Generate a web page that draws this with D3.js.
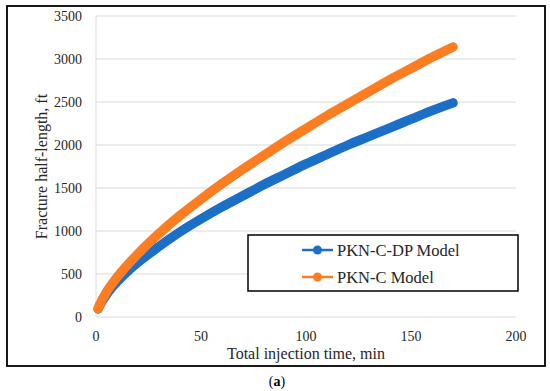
<!DOCTYPE html>
<html>
<head>
<meta charset="utf-8">
<script src="https://cdn.jsdelivr.net/npm/d3@7"></script>
<style>
  body { margin: 0; background: #fff; }
</style>
</head>
<body>
<div id="chart"></div>
<script>
// values
var times = [1, 2, 5, 10, 15, 20, 30, 40, 50, 60, 70, 80, 90, 100, 110, 120, 130, 140, 150, 160, 170];
var pknCdp = [94, 146, 262, 410, 530, 635, 820, 990, 1140, 1280, 1410, 1540, 1660, 1780, 1890, 2000, 2100, 2200, 2300, 2400, 2490];
var pknC = [97, 155, 290, 460, 605, 735, 970, 1180, 1370, 1550, 1720, 1880, 2040, 2190, 2340, 2480, 2620, 2760, 2890, 3020, 3140];
var xTicks = [0, 50, 100, 150, 200];
var yTicks = [0, 500, 1000, 1500, 2000, 2500, 3000, 3500];
var seriesNames = ["PKN-C-DP Model", "PKN-C Model"];
var colors = ["#1c6fc6", "#fd7d23"];

var serif = "'Liberation Serif', 'Times New Roman', serif";

var svg = d3.select("#chart")
  .append("svg")
    .attr("width", 550)
    .attr("height", 391)
    .attr("font-family", serif);

// outer frame
svg.append("rect")
    .attr("x", 7).attr("y", 6)
    .attr("width", 538).attr("height", 360)
    .attr("fill", "none")
    .attr("stroke", "#000")
    .attr("stroke-width", 1.8);

var x = d3.scaleLinear().domain([0, 200]).range([96, 516]);
var y = d3.scaleLinear().domain([0, 3500]).range([317, 16]);

// gridlines
svg.append("g")
  .selectAll("line")
  .data(yTicks)
  .enter()
  .append("line")
    .attr("x1", x(0)).attr("x2", x(200))
    .attr("y1", function(d) { return y(d); })
    .attr("y2", function(d) { return y(d); })
    .attr("stroke", "#d9d9d9")
    .attr("stroke-width", 1);

svg.append("line")
    .attr("x1", x(0)).attr("x2", x(0))
    .attr("y1", y(0)).attr("y2", y(3500))
    .attr("stroke", "#d9d9d9");

// tick labels
svg.append("g")
  .selectAll("text")
  .data(yTicks)
  .enter()
  .append("text")
    .attr("x", 82)
    .attr("y", function(d) { return y(d); })
    .attr("dy", "0.35em")
    .attr("font-family", serif)
    .attr("font-size", 14)
    .attr("fill", "#262626")
    .style("text-anchor", "end")
    .text(function(d) { return d; });

svg.append("g")
  .selectAll("text")
  .data(xTicks)
  .enter()
  .append("text")
    .attr("x", function(d) { return x(d); })
    .attr("y", 341)
    .attr("font-family", serif)
    .attr("font-size", 14)
    .attr("fill", "#262626")
    .style("text-anchor", "middle")
    .text(function(d) { return d; });

// axis titles
svg.append("text")
    .attr("x", 306).attr("y", 359)
    .attr("font-family", serif)
    .attr("font-size", 16)
    .attr("fill", "#262626")
    .style("text-anchor", "middle")
    .text("Total injection time, min");

svg.append("text")
    .attr("transform", "translate(47," + ((y(0) + y(3500)) / 2) + ") rotate(-90)")
    .attr("font-family", serif)
    .attr("font-size", 16)
    .attr("fill", "#262626")
    .style("text-anchor", "middle")
    .text("Fracture half-length, ft");

// the curves
var line = d3.line()
    .x(function(d) { return x(d[0]); })
    .y(function(d) { return y(d[1]); })
    .curve(d3.curveMonotoneX);

[pknCdp, pknC].forEach(function(vals, i) {
  var pts = times.map(function(t, j) { return [t, vals[j]]; });
  svg.append("path")
      .datum(pts)
      .attr("d", line)
      .attr("fill", "none")
      .attr("stroke", colors[i])
      .attr("stroke-width", 9.5)
      .attr("stroke-linecap", "round")
      .attr("stroke-linejoin", "round");
});

// legend
var legend = svg.append("g");
legend.append("rect")
    .attr("x", 248).attr("y", 235)
    .attr("width", 270).attr("height", 56)
    .attr("fill", "#fff")
    .attr("stroke", "#000")
    .attr("stroke-width", 1.5);

var item = legend.selectAll("g.item")
  .data(seriesNames)
  .enter()
  .append("g")
    .attr("class", "item")
    .attr("transform", function(d, i) { return "translate(0," + (250 + i * 27) + ")"; });

item.append("line")
    .attr("x1", 302).attr("x2", 333)
    .attr("stroke", function(d, i) { return colors[i]; })
    .attr("stroke-width", 2.5);
item.append("circle")
    .attr("cx", 317.5).attr("r", 4.5)
    .attr("fill", function(d, i) { return colors[i]; });
item.append("text")
    .attr("x", 337)
    .attr("dy", "0.35em")
    .attr("font-family", serif)
    .attr("font-size", 16.5)
    .attr("fill", "#262626")
    .text(function(d) { return d; });

// panel label
var lab = svg.append("text")
    .attr("x", 277).attr("y", 386)
    .attr("font-family", serif)
    .attr("font-size", 14)
    .attr("fill", "#000")
    .style("text-anchor", "middle");
lab.append("tspan").text("(");
lab.append("tspan").attr("font-weight", "bold").text("a");
lab.append("tspan").text(")");
</script>
</body>
</html>
